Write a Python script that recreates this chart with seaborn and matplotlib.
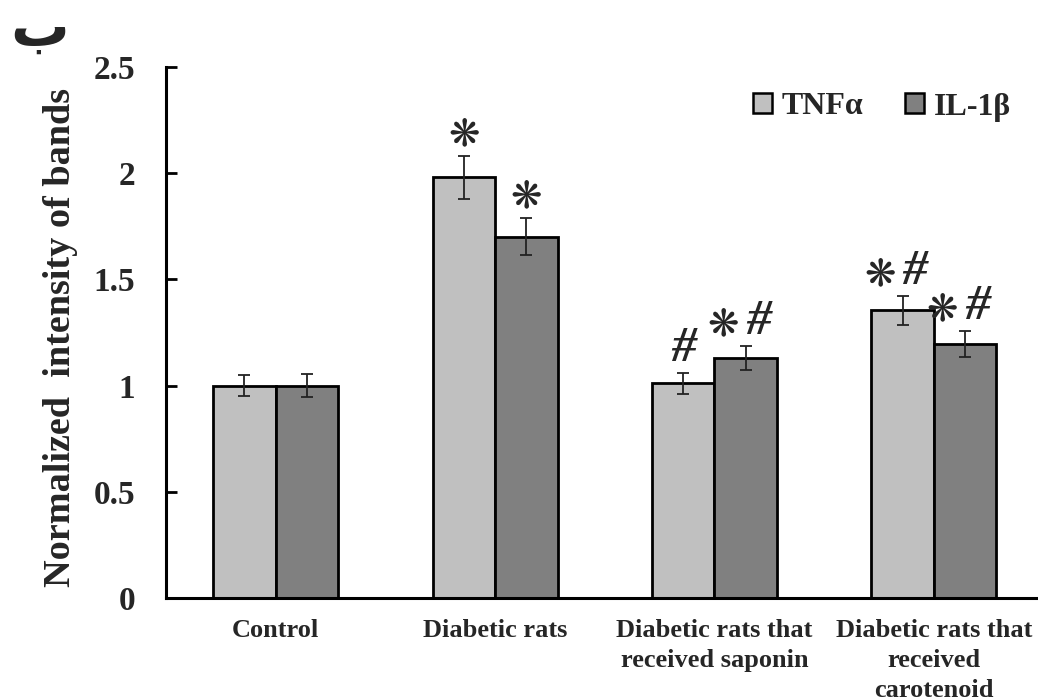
import numpy as np
import pandas as pd
import matplotlib
matplotlib.use("Agg")
import matplotlib.pyplot as plt
import seaborn as sns
from matplotlib.patches import Patch
from matplotlib.ticker import FixedLocator

# ---- data ----
categories = ["Control", "Diabetic rats", "Diabetic rats that\nreceived saponin",
              "Diabetic rats that\nreceived\ncarotenoid"]
series = ["TNF\u03b1", "IL-1\u03b2"]
tnf_values = [1.00, 1.98, 1.01, 1.355]
il1b_values = [1.00, 1.70, 1.13, 1.195]
tnf_err = [0.05, 0.10, 0.05, 0.068]
il1b_err = [0.055, 0.087, 0.057, 0.062]
tnf_marks = ["", "\u274b", "#", "\u274b#"]
il1b_marks = ["", "\u274b", "\u274b#", "\u274b#"]
yticks = [0, 0.5, 1, 1.5, 2, 2.5]
ytick_labels = ["0", "0.5", "1", "1.5", "2", "2.5"]
panel_label = "\u0628"
ylabel = "Normalized  intensity of bands"

colors = ["#c0c0c0", "#808080"]

df = pd.DataFrame({
    "group": categories * 2,
    "series": [series[0]] * 4 + [series[1]] * 4,
    "value": tnf_values + il1b_values,
})

sns.set_style("white")
plt.rcParams["font.family"] = ["Liberation Serif", "DejaVu Sans"]

fig = plt.figure(figsize=(10.38, 7.0), dpi=100)
ax = fig.add_axes([166 / 1038, 1 - 598 / 700, 877.5 / 1038, 531 / 700])

sns.barplot(data=df, x="group", y="value", hue="series", order=categories,
            hue_order=series, palette=colors, width=0.57, gap=0, errorbar=None,
            edgecolor="black", linewidth=2.0, saturation=1, legend=False, ax=ax)

bar_containers = list(ax.containers)
errs = [tnf_err, il1b_err]
marks = [tnf_marks, il1b_marks]
star_kw = dict(textcoords="offset points", va="center", fontsize=27,
               family="DejaVu Sans", fontweight="bold")
hash_kw = dict(textcoords="offset points", va="center", fontsize=36,
               family="Liberation Serif", style="italic", fontweight="bold")
for ci, cont in enumerate(bar_containers):
    xs = [p.get_x() + p.get_width() / 2 for p in cont.patches]
    hs = [p.get_height() for p in cont.patches]
    ax.errorbar(xs, hs, yerr=errs[ci], fmt="none", ecolor="#222222",
                elinewidth=1.3, capsize=4, capthick=1.3, zorder=5)
    for x, h, e, m in zip(xs, hs, errs[ci], marks[ci]):
        if not m:
            continue
        y = h + e
        if m == "\u274b":
            ax.annotate(m, (x, y), xytext=(0, 15), ha="center", **star_kw)
        elif m == "#":
            ax.annotate(m, (x, y), xytext=(0, 17), ha="center", **hash_kw)
        else:
            ax.annotate("\u274b", (x, y), xytext=(-5, 15), ha="right", **star_kw)
            ax.annotate("#", (x, y), xytext=(0, 17), ha="left", **hash_kw)

ax.set_ylim(0, 2.5)
ax.set_xlim(-0.5, len(categories) - 0.5)
ax.set_yticks(yticks)
ax.set_yticklabels(ytick_labels, fontsize=24, fontweight="bold")
ax.set_xticks(range(len(categories)))
ax.set_xticklabels(categories, fontsize=19, fontweight="bold", linespacing=1.38)
ax.xaxis.set_minor_locator(FixedLocator([0.5, 1.5, 2.5]))
ax.tick_params(axis="x", which="major", length=0, pad=15)
ax.tick_params(axis="x", which="minor", direction="in", length=5, width=1.8, color="black")
ax.tick_params(axis="y", which="major", direction="in", length=8, width=2.0,
               color="black", pad=22, left=True)
ax.set_xlabel("")
ax.set_ylabel(ylabel, fontsize=27.5, fontweight="bold")
ax.yaxis.set_label_coords(-0.10, 0.49)
sns.despine(ax=ax)
for s in ["left", "bottom"]:
    ax.spines[s].set_linewidth(2.2)
    ax.spines[s].set_color("black")

handles = [Patch(facecolor=c, edgecolor="black", linewidth=1.8) for c in colors]
fig.legend(handles, series, loc="center", bbox_to_anchor=(882 / 1038, 1 - 107 / 700),
           ncol=2, frameon=False, prop={"family": "Liberation Serif", "weight": "bold", "size": 23},
           handlelength=0.6, handleheight=0.6, handletextpad=0.3, columnspacing=1.3)

fig.text(10 / 1038, 1 - 46 / 700, panel_label, ha="left", va="baseline", fontsize=42,
         fontweight="bold", family="DejaVu Sans")

fig.savefig("out.png", dpi=100)
